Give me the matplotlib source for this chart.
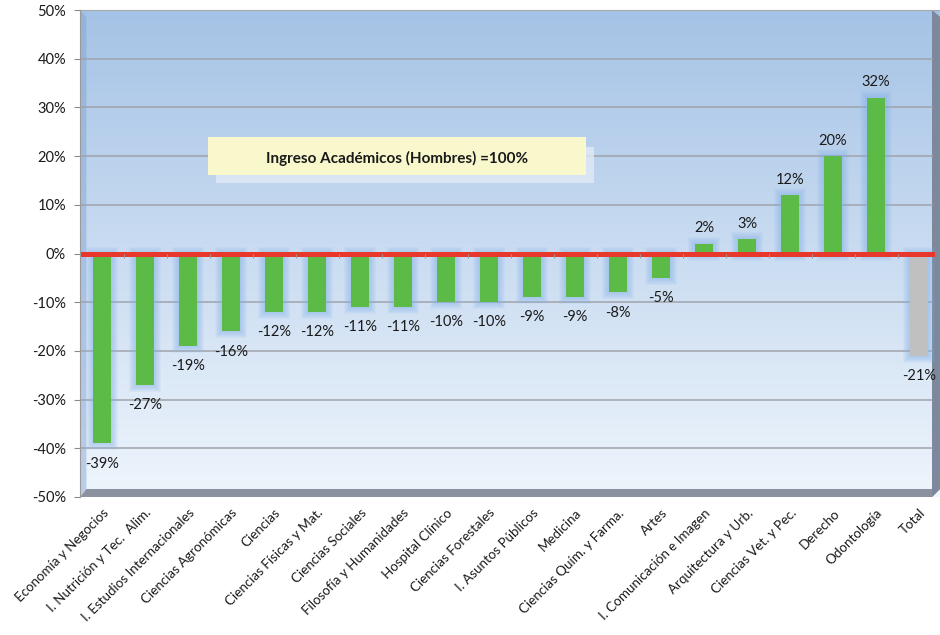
import numpy as np
import matplotlib.pyplot as plt
from matplotlib.patches import Polygon, Rectangle
from matplotlib.ticker import FuncFormatter

plt.rcParams['font.family'] = ['Lato', 'DejaVu Sans']

carreras = ['Economía y Negocios', 'I. Nutrición y Tec.  Alim.', 'I. Estudios Internacionales',
            'Ciencias Agronómicas', 'Ciencias', 'Ciencias Físicas y Mat.', 'Ciencias Sociales',
            'Filosofía y Humanidades', 'Hospital Clínico', 'Ciencias Forestales',
            'I. Asuntos Públicos', 'Medicina', 'Ciencias Quím. y Farma.', 'Artes',
            'I. Comunicación e Imagen', 'Arquitectura y Urb.', 'Ciencias Vet. y Pec.',
            'Derecho', 'Odontología', 'Total']
diferencia = [-39, -27, -19, -16, -12, -12, -11, -11, -10, -10, -9, -9, -8, -5,
              2, 3, 12, 20, 32, -21]

W, H = 940, 635
fig = plt.figure(figsize=(W / 100, H / 100), dpi=100)
ax = fig.add_axes([80 / W, 1 - 497 / H, 860 / W, 487 / H])

xmin, xmax = -22 / 43, 838 / 43
ax.set_xlim(xmin, xmax)
ax.set_ylim(-50, 50)

# fondo con degradado
grad = np.linspace(0, 1, 256).reshape(-1, 1)
c_top = np.array([165, 195, 230]) / 255
c_bot = np.array([238, 245, 252]) / 255
img = c_bot + (c_top - c_bot) * grad
ax.imshow(img.reshape(256, 1, 3), extent=[0, 1, 0, 1], transform=ax.transAxes,
          aspect='auto', origin='lower', zorder=0)

fx = 8 / 860  # ancho pared lateral
fy = 8 / 487  # alto del piso
ax.add_patch(Polygon([(0, 0), (fx * 0.8, fy), (fx * 0.8, 1 - 0.014), (0, 1)], closed=True,
                     transform=ax.transAxes, facecolor='#7f9fd0', alpha=0.45, lw=0, zorder=1))
ax.add_patch(Polygon([(0, 0), (1 - fx, 0), (1, fy), (fx * 0.8, fy)], closed=True,
                     transform=ax.transAxes, facecolor='#8b919e', lw=0, zorder=1))
ax.add_patch(Polygon([(1 - fx, 0), (1 - fx, 1), (1, 1 - 0.014), (1, fy)], closed=True,
                     transform=ax.transAxes, facecolor='#7d889c', lw=0, zorder=1))

for g in [-40, -30, -20, -10, 10, 20, 30, 40]:
    ax.axhline(g, xmin=0, xmax=1 - fx, color='#a0a3ab', lw=1.1, zorder=2)

x = np.arange(len(carreras))
colores = ['#5cba47'] * (len(carreras) - 1) + ['#c0c0c0']
ancho = 0.42

# brillo azul alrededor de las barras
dx, dy = 1 / 43, 100 / 487
for k in range(1, 8):
    for xi, v in zip(x, diferencia):
        s = 1 if v > 0 else -1
        ax.bar(xi, v + s * 2 * k * dy, bottom=-s * k * dy, width=ancho + 2 * k * dx,
               color='#84b2e8', alpha=0.09, lw=0, zorder=3)

ax.bar(x, diferencia, width=ancho, color=colores, lw=0, zorder=4)

ax.axhline(0, xmin=0, xmax=1 - fx, color='#e8382c', lw=3.6, zorder=5)
ax.vlines(x[:-1] + 0.5, -0.9, 0, color='#9a9a9a', lw=0.8, zorder=5)

for xi, v in zip(x, diferencia):
    if v > 0:
        ax.annotate(f'{v}%', (xi, v), xytext=(0, 11), textcoords='offset points',
                    ha='center', va='center', fontsize=10.5, color='#1a1a1a', zorder=6)
    else:
        ax.annotate(f'{v}%', (xi, v), xytext=(0, -14.5), textcoords='offset points',
                    ha='center', va='center', fontsize=10.5, color='#1a1a1a', zorder=6)

ax.set_yticks(np.arange(-50, 51, 10))
ax.yaxis.set_major_formatter(FuncFormatter(lambda v, p: f'{v:.0f}%'))
ax.tick_params(axis='y', length=4, color='#8c8c8c', labelsize=10.5, pad=6,
               labelcolor='#1a1a1a')
ax.set_xticks(x)
ax.set_xticklabels(carreras, rotation=45, ha='right', rotation_mode='anchor',
                   fontsize=9.6, color='#1a1a1a')
ax.tick_params(axis='x', length=0, pad=7)

for sp in ['right', 'bottom']:
    ax.spines[sp].set_visible(False)
ax.spines['left'].set_color('#9a9a9a')
ax.spines['top'].set_color('#a8a8a8')
ax.spines['left'].set_zorder(7)

# cuadro de texto
fig.add_artist(Rectangle((216 / W, 1 - 183 / H), 378 / W, 36 / H, transform=fig.transFigure,
                         facecolor='#e4ecf6', alpha=0.75, lw=0, zorder=8))
fig.add_artist(Rectangle((208 / W, 1 - 175 / H), 378 / W, 38 / H, transform=fig.transFigure,
                         facecolor='#f9f8cc', lw=0, zorder=9))
fig.text(397 / W, 1 - 158 / H, 'Ingreso Académicos (Hombres) =100%', ha='center', va='center',
         fontsize=11, fontweight='bold', color='#1a1a1a', zorder=10)

fig.savefig('out.png', dpi=100)
